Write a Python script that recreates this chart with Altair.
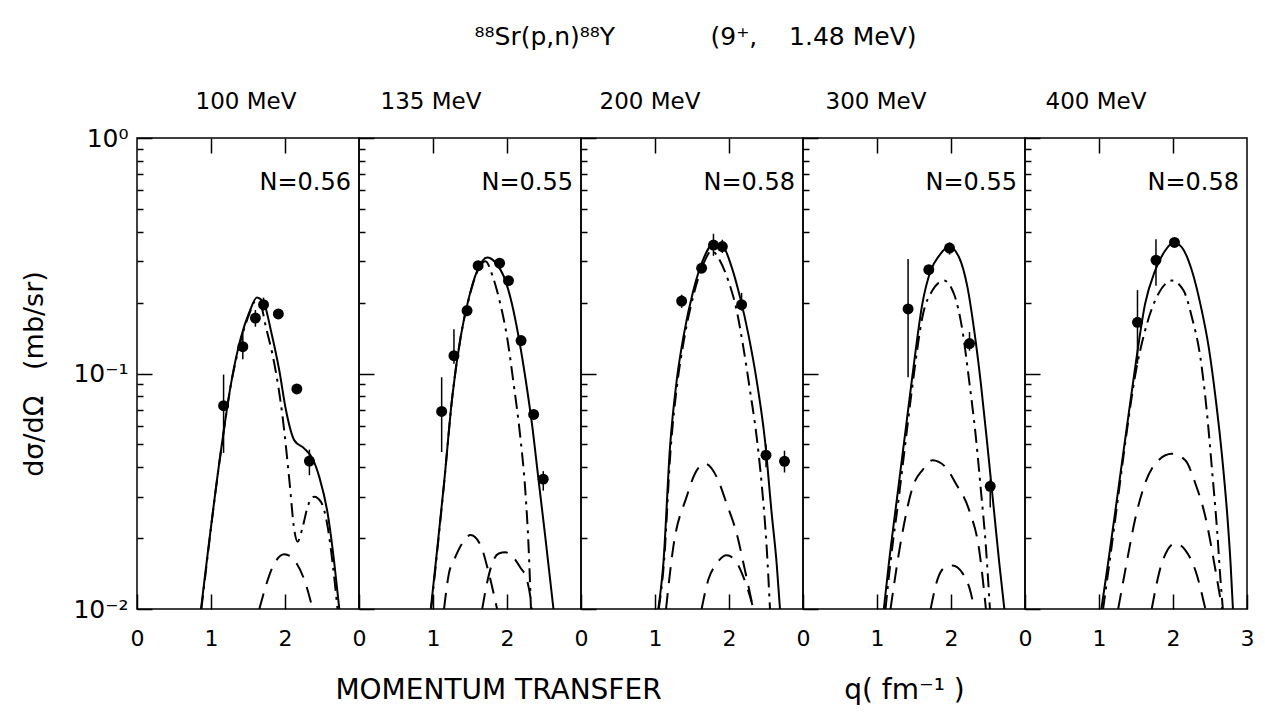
import altair as alt
import pandas as pd

FONT = "DejaVu Sans"
NB = "\u00a0"

MAIN_TITLE = "\u2078\u2078Sr(p,n)\u2078\u2078Y" + NB * 12 + "(9\u207a," + NB * 4 + "1.48 MeV)"
ENERGIES = ["100 MeV", "135 MeV", "200 MeV", "300 MeV", "400 MeV"]
NORMS = ["N=0.56", "N=0.55", "N=0.58", "N=0.55", "N=0.58"]
Y_TITLE = "d\u03c3/d\u03a9" + NB * 3 + "(mb/sr)"
X_TITLE_LEFT = "MOMENTUM TRANSFER"
X_TITLE_RIGHT = "q(" + NB + "fm\u207b\u00b9" + NB + ")"

X_TICKS = [0, 1, 2]
X_TICKS_LAST = [0, 1, 2, 3]
X_TOP_TICKS = [1, 2]
Y_MAJOR = [0.01, 0.1, 1]
Y_MINOR = [0.02, 0.03, 0.04, 0.05, 0.06, 0.07, 0.08, 0.09,
           0.2, 0.3, 0.4, 0.5, 0.6, 0.7, 0.8, 0.9]

# ---- measured points: q, sigma, error low, error high ----
P1_Q = [1.17, 1.43, 1.60, 1.71, 1.91, 2.16, 2.33]
P1_S = [0.073, 0.130, 0.172, 0.196, 0.179, 0.086, 0.0425]
P1_LO = [0.046, 0.115, 0.158, 0.185, 0.172, 0.083, 0.037]
P1_HI = [0.099, 0.150, 0.186, 0.210, 0.186, 0.089, 0.0475]

P2_Q = [1.117, 1.283, 1.46, 1.61, 1.90, 2.02, 2.19, 2.36, 2.49]
P2_S = [0.069, 0.119, 0.185, 0.287, 0.294, 0.248, 0.138, 0.067, 0.0356]
P2_LO = [0.0464, 0.110, 0.175, 0.275, 0.285, 0.240, 0.133, 0.064, 0.0318]
P2_HI = [0.0964, 0.154, 0.195, 0.300, 0.305, 0.256, 0.143, 0.070, 0.0385]

P3_Q = [1.36, 1.63, 1.79, 1.91, 2.17, 2.50, 2.75]
P3_S = [0.203, 0.280, 0.351, 0.346, 0.196, 0.045, 0.0424]
P3_LO = [0.190, 0.270, 0.316, 0.325, 0.185, 0.040, 0.038]
P3_HI = [0.216, 0.290, 0.392, 0.370, 0.220, 0.050, 0.047]

P4_Q = [1.42, 1.70, 1.98, 2.25, 2.53]
P4_S = [0.188, 0.276, 0.341, 0.134, 0.0332]
P4_LO = [0.0965, 0.265, 0.320, 0.125, 0.027]
P4_HI = [0.306, 0.288, 0.360, 0.150, 0.0355]

P5_Q = [1.52, 1.77, 2.02]
P5_S = [0.165, 0.303, 0.360]
P5_LO = [0.110, 0.236, 0.345]
P5_HI = [0.226, 0.372, 0.375]

# ---- calculated curves: (q, sigma) ----
P1_SOLID = [(0.865, 0.01), (1.135, 0.0472), (1.27, 0.0904), (1.405, 0.1425), (1.518, 0.182),
            (1.62, 0.21), (1.72, 0.197), (1.81, 0.152), (1.923, 0.103), (2.014, 0.0696),
            (2.126, 0.052), (2.261, 0.048), (2.374, 0.0434), (2.464, 0.0363), (2.577, 0.0254),
            (2.667, 0.0156), (2.734, 0.01)]
P1_DASHDOT = [(0.87, 0.01), (1.135, 0.047), (1.27, 0.09), (1.405, 0.139), (1.52, 0.18),
              (1.60, 0.203), (1.66, 0.2), (1.743, 0.157), (1.856, 0.11), (1.968, 0.0653),
              (2.059, 0.0352), (2.126, 0.0216), (2.17, 0.0193), (2.239, 0.0223), (2.306, 0.0272),
              (2.396, 0.030), (2.486, 0.0285), (2.577, 0.0223), (2.644, 0.0156), (2.71, 0.01)]
P1_DASH_A = [(1.653, 0.01), (1.856, 0.0156), (1.99, 0.0171), (2.126, 0.0161), (2.261, 0.0133),
             (2.374, 0.01)]
P1_DASH_B = []

P2_SOLID = [(0.97, 0.01), (1.036, 0.0156), (1.149, 0.0341), (1.26, 0.0794), (1.373, 0.1425),
            (1.485, 0.21), (1.597, 0.273), (1.732, 0.311), (1.844, 0.296), (1.978, 0.248),
            (2.068, 0.197), (2.158, 0.1425), (2.247, 0.0964), (2.337, 0.0612), (2.427, 0.0352),
            (2.517, 0.0203), (2.628, 0.01)]
P2_DASHDOT = [(0.975, 0.01), (1.04, 0.0156), (1.149, 0.034), (1.26, 0.079), (1.373, 0.142),
              (1.485, 0.208), (1.597, 0.27), (1.71, 0.30), (1.80, 0.262), (1.889, 0.21),
              (2.001, 0.1425), (2.09, 0.0904), (2.18, 0.0537), (2.247, 0.0319), (2.292, 0.0183),
              (2.324, 0.01)]
P2_DASH_A = [(1.149, 0.01), (1.216, 0.0142), (1.283, 0.0161), (1.395, 0.019), (1.507, 0.0206),
             (1.642, 0.0187), (1.754, 0.0142), (1.866, 0.01)]
P2_DASH_B = [(1.665, 0.01), (1.732, 0.013), (1.799, 0.0156), (1.889, 0.0172), (1.978, 0.0174),
             (2.068, 0.0168), (2.18, 0.015), (2.27, 0.0133), (2.315, 0.0113), (2.337, 0.01)]

P3_SOLID = [(1.045, 0.01), (1.113, 0.0156), (1.203, 0.0488), (1.293, 0.0933), (1.383, 0.1425),
            (1.518, 0.225), (1.653, 0.306), (1.788, 0.355), (1.923, 0.344), (2.036, 0.283),
            (2.149, 0.211), (2.261, 0.147), (2.374, 0.0933), (2.486, 0.052), (2.577, 0.0254),
            (2.644, 0.0156), (2.689, 0.01)]
P3_DASHDOT = [(1.05, 0.01), (1.12, 0.0156), (1.21, 0.047), (1.30, 0.09), (1.39, 0.138),
              (1.52, 0.215), (1.65, 0.29), (1.766, 0.332), (1.878, 0.301), (1.99, 0.248),
              (2.104, 0.185), (2.194, 0.129), (2.284, 0.0847), (2.374, 0.0537), (2.441, 0.0341),
              (2.509, 0.0183), (2.554, 0.01)]
P3_DASH_A = [(1.149, 0.01), (1.248, 0.0184), (1.428, 0.030), (1.541, 0.0376), (1.676, 0.0414),
             (1.833, 0.0364), (1.968, 0.028), (2.104, 0.0209), (2.216, 0.0146), (2.329, 0.01)]
P3_DASH_B = [(1.63, 0.01), (1.72, 0.0133), (1.833, 0.0156), (1.968, 0.0169), (2.081, 0.0161),
             (2.194, 0.0137), (2.284, 0.0113), (2.33, 0.01)]

P4_SOLID = [(1.092, 0.01), (1.16, 0.0156), (1.273, 0.030), (1.386, 0.0573), (1.499, 0.110),
            (1.612, 0.197), (1.725, 0.273), (1.838, 0.316), (1.974, 0.345), (2.11, 0.311),
            (2.223, 0.232), (2.314, 0.152), (2.404, 0.0904), (2.494, 0.0488), (2.585, 0.0254),
            (2.653, 0.0156), (2.721, 0.01)]
P4_DASHDOT = [(1.115, 0.01), (1.18, 0.0156), (1.296, 0.030), (1.40, 0.056), (1.50, 0.10),
              (1.612, 0.173), (1.748, 0.225), (1.906, 0.248), (2.042, 0.217), (2.155, 0.152),
              (2.245, 0.0933), (2.336, 0.0537), (2.404, 0.0319), (2.472, 0.0183), (2.526, 0.01)]
P4_DASH_A = [(1.183, 0.01), (1.318, 0.019), (1.499, 0.0341), (1.612, 0.0388), (1.748, 0.0428),
             (1.929, 0.040), (2.065, 0.0341), (2.245, 0.0263), (2.381, 0.0178), (2.472, 0.01)]
P4_DASH_B = [(1.725, 0.01), (1.816, 0.0133), (1.929, 0.0151), (2.02, 0.0153), (2.155, 0.0142),
             (2.268, 0.0117), (2.314, 0.01)]

P5_SOLID = [(1.032, 0.01), (1.122, 0.0156), (1.259, 0.0319), (1.395, 0.0653), (1.508, 0.117),
            (1.622, 0.197), (1.757, 0.273), (1.893, 0.332), (2.007, 0.36), (2.12, 0.343),
            (2.256, 0.273), (2.37, 0.197), (2.483, 0.129), (2.574, 0.0794), (2.664, 0.0442),
            (2.732, 0.0254), (2.778, 0.0156), (2.81, 0.01)]
P5_DASHDOT = [(1.055, 0.01), (1.14, 0.0156), (1.259, 0.030), (1.38, 0.058), (1.485, 0.0966),
              (1.622, 0.152), (1.803, 0.218), (1.985, 0.248), (2.143, 0.225), (2.256, 0.173),
              (2.37, 0.117), (2.46, 0.0675), (2.528, 0.0388), (2.596, 0.0216), (2.642, 0.0133),
              (2.674, 0.01)]
P5_DASH_A = [(1.259, 0.01), (1.372, 0.0156), (1.485, 0.0238), (1.622, 0.0341), (1.803, 0.0428),
             (1.985, 0.0456), (2.166, 0.0428), (2.302, 0.0341), (2.438, 0.0246), (2.574, 0.0146),
             (2.664, 0.01)]
P5_DASH_B = [(1.712, 0.01), (1.848, 0.0156), (2.03, 0.019), (2.166, 0.0178), (2.302, 0.0146),
             (2.438, 0.01)]

POINTS = [(P1_Q, P1_S, P1_LO, P1_HI), (P2_Q, P2_S, P2_LO, P2_HI), (P3_Q, P3_S, P3_LO, P3_HI),
          (P4_Q, P4_S, P4_LO, P4_HI), (P5_Q, P5_S, P5_LO, P5_HI)]
SOLIDS = [P1_SOLID, P2_SOLID, P3_SOLID, P4_SOLID, P5_SOLID]
DASHDOTS = [P1_DASHDOT, P2_DASHDOT, P3_DASHDOT, P4_DASHDOT, P5_DASHDOT]
DASHES = [(P1_DASH_A, P1_DASH_B), (P2_DASH_A, P2_DASH_B), (P3_DASH_A, P3_DASH_B),
          (P4_DASH_A, P4_DASH_B), (P5_DASH_A, P5_DASH_B)]

W, H = 222, 471
TITLE_DX = [-2, -39, -42, -38, -40]
TITLE_OFFSET = [12, 23, 23, 23, 23]
LABEL_EXPR = ("datum.value > 0.5 ? '10\u2070' : (datum.value > 0.05 ? '10\u207b\u00b9' : '10\u207b\u00b2')")


def curve_df(pairs, cid="a"):
    return pd.DataFrame({"q": [p[0] for p in pairs], "s": [p[1] for p in pairs], "c": cid})


def make_panel(i):
    xs = alt.Scale(domain=[0, 3], nice=False, zero=False)
    ys = alt.Scale(type="log", domain=[0.01, 1], nice=False)
    common = dict(domain=False, grid=False, tickColor="black", tickWidth=1.5,
                  labelColor="black", labelFont=FONT, titleFont=FONT,
                  titleColor="black", titleFontWeight="normal")

    xb_kw = dict(orient="bottom", values=X_TICKS_LAST if i == 4 else X_TICKS,
                 offset=-15, tickSize=15, labelFontSize=22, labelPadding=19,
                 labelFlush=False, format="d", titleFontSize=28, titlePadding=27)
    if i == 1:
        xb_kw.update(title=X_TITLE_LEFT, titleX=139, titleAlign="center")
    elif i == 3:
        xb_kw.update(title=X_TITLE_RIGHT, titleX=101, titleAlign="center")
    else:
        xb_kw.update(title=None)
    x_bottom = alt.Axis(**xb_kw, **common)

    yl_kw = dict(orient="left", values=Y_MAJOR, offset=-15, tickSize=15,
                 labels=(i == 0), labelExpr=LABEL_EXPR, labelFontSize=25,
                 labelPadding=9, titleFontSize=27, titlePadding=24)
    yl_kw.update(title=Y_TITLE if i == 0 else None)
    y_left = alt.Axis(**yl_kw, **common)

    x_top = alt.Axis(orient="top", values=X_TOP_TICKS, offset=-15, tickSize=15,
                     labels=False, title=None, **common)
    y_minor = alt.Axis(orient="left", values=Y_MINOR, offset=-6, tickSize=6,
                       labels=False, title=None, **common)

    line_kw = dict(color="black", strokeWidth=2, interpolate="monotone", clip=True)

    solid = alt.Chart(curve_df(SOLIDS[i])).mark_line(**line_kw).encode(
        x=alt.X("q:Q", scale=xs, axis=x_bottom),
        y=alt.Y("s:Q", scale=ys, axis=y_left),
    )
    dashdot = alt.Chart(curve_df(DASHDOTS[i])).mark_line(
        strokeDash=[14, 6, 3, 6], **line_kw).encode(
        x=alt.X("q:Q", scale=xs, axis=x_top),
        y=alt.Y("s:Q", scale=ys, axis=y_minor),
    )
    da, db = DASHES[i]
    dash_df = pd.concat([curve_df(da, "a")] + ([curve_df(db, "b")] if db else []),
                        ignore_index=True)
    dashes = alt.Chart(dash_df).mark_line(strokeDash=[16, 10], **line_kw).encode(
        x=alt.X("q:Q", scale=xs, axis=None),
        y=alt.Y("s:Q", scale=ys, axis=None),
        detail="c:N",
    )
    q, s, lo, hi = POINTS[i]
    pts_df = pd.DataFrame({"q": q, "s": s, "lo": lo, "hi": hi})
    err = alt.Chart(pts_df).mark_rule(color="black", strokeWidth=1.5).encode(
        x=alt.X("q:Q", scale=xs, axis=None),
        y=alt.Y("lo:Q", scale=ys, axis=None),
        y2="hi:Q",
    )
    pts = alt.Chart(pts_df).mark_circle(size=120, color="black", opacity=1).encode(
        x=alt.X("q:Q", scale=xs, axis=None),
        y=alt.Y("s:Q", scale=ys, axis=None),
    )
    label = alt.Chart(pd.DataFrame({"t": [NORMS[i]]})).mark_text(
        align="right", baseline="alphabetic", font=FONT, fontSize=24, color="black"
    ).encode(x=alt.value(W - 8), y=alt.value(52), text="t:N")

    return alt.layer(solid, dashdot, dashes, err, pts, label).resolve_axis(
        x="independent", y="independent"
    ).properties(
        width=W, height=H,
        title=alt.TitleParams(ENERGIES[i], font=FONT, fontSize=23, fontWeight="normal",
                              color="black", offset=TITLE_OFFSET[i], dx=TITLE_DX[i]),
    )


panels = [make_panel(i) for i in range(5)]

chart = alt.hconcat(*panels, spacing=0, bounds="flush").properties(
    title=alt.TitleParams(MAIN_TITLE, font=FONT, fontSize=25, fontWeight="normal",
                          anchor="middle", offset=40, color="black", dx=58),
    padding={"left": 12, "top": 17, "right": 0, "bottom": 5},
    background="white",
).configure_view(stroke="black", strokeWidth=1.5)

chart.save("out.html", embed_options={"renderer": "svg", "actions": False})
